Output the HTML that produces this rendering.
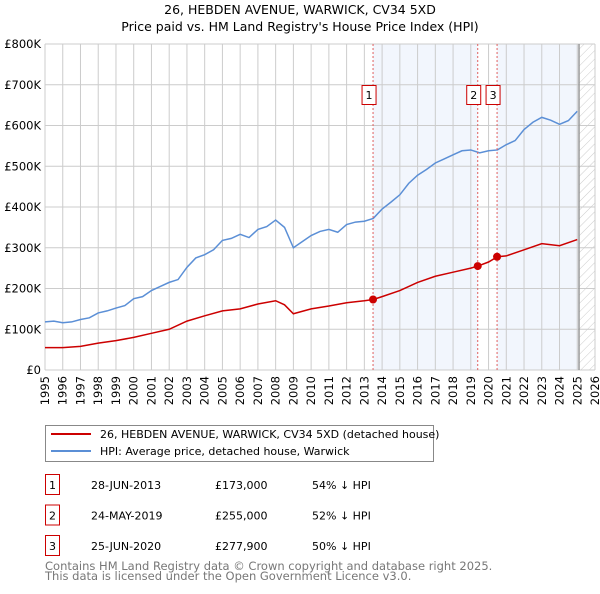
<!DOCTYPE html>
<html><head><meta charset="utf-8"><style>
body{margin:0;background:#fff;font-family:"DejaVu Sans","Liberation Sans",sans-serif;}
svg text{font-family:"DejaVu Sans","Liberation Sans",sans-serif;}
</style></head><body>
<svg id="chart" width="600" height="590" xmlns="http://www.w3.org/2000/svg">
<defs><pattern id="hatch" width="6" height="6" patternUnits="userSpaceOnUse" patternTransform="rotate(45)"><line x1="0" y1="0" x2="0" y2="6" stroke="#ccc" stroke-width="1"/></pattern></defs>
<text x="300" y="14" text-anchor="middle" font-size="12.5">26, HEBDEN AVENUE, WARWICK, CV34 5XD</text>
<text x="300" y="31" text-anchor="middle" font-size="12.5">Price paid vs. HM Land Registry's House Price Index (HPI)</text>
<g id="bg"></g><g id="grid"></g><g id="series"></g><g id="marks"></g><g id="axes"></g>
<g>
<rect x="45.5" y="425.5" width="388" height="36" fill="#fff" stroke="#888"/>
<line x1="51" y1="434" x2="91" y2="434" stroke="#cc0000" stroke-width="2"/>
<text x="100" y="438" font-size="11">26, HEBDEN AVENUE, WARWICK, CV34 5XD (detached house)</text>
<line x1="51" y1="451" x2="91" y2="451" stroke="#5b8fd6" stroke-width="2"/>
<text x="100" y="455" font-size="11">HPI: Average price, detached house, Warwick</text>
</g>
<g id="table" font-size="11"></g>
<text x="45" y="570" font-size="11.5" fill="#777">Contains HM Land Registry data © Crown copyright and database right 2025.</text>
<text x="45" y="580" font-size="11.5" fill="#777">This data is licensed under the Open Government Licence v3.0.</text>
</svg>
<script>
const hpiYears=[1995,1995.5,1996,1996.5,1997,1997.5,1998,1998.5,1999,1999.5,2000,2000.5,2001,2001.5,2002,2002.5,2003,2003.5,2004,2004.5,2005,2005.5,2006,2006.5,2007,2007.5,2008,2008.5,2009,2009.5,2010,2010.5,2011,2011.5,2012,2012.5,2013,2013.5,2014,2014.5,2015,2015.5,2016,2016.5,2017,2017.5,2018,2018.5,2019,2019.5,2020,2020.5,2021,2021.5,2022,2022.5,2023,2023.5,2024,2024.5,2025];
const hpiValues=[118,120,116,118,124,128,140,145,152,158,175,180,195,205,215,222,252,275,283,295,318,323,333,325,345,352,368,350,300,315,330,340,345,338,357,363,365,372,395,412,430,458,478,492,508,518,528,538,540,533,538,540,553,563,590,608,620,613,603,612,635];
const ppYears=[1995,1996,1997,1998,1999,2000,2001,2002,2003,2004,2005,2006,2007,2008,2008.5,2009,2010,2011,2012,2013,2013.5,2014,2015,2016,2017,2018,2019,2019.4,2020,2020.5,2021,2022,2023,2024,2025];
const ppValues=[55,55,58,66,72,80,90,100,120,133,145,150,162,170,160,138,150,157,165,170,173,180,195,215,230,240,250,255,265,278,280,295,310,305,320];
const saleYears=[2013.49,2019.39,2020.48];
const saleValues=[173000,255000,277900];
const saleLabels=["1","2","3"];
const saleDates=["28-JUN-2013","24-MAY-2019","25-JUN-2020"];
const salePrices=["£173,000","£255,000","£277,900"];
const saleDiffs=["54% ↓ HPI","52% ↓ HPI","50% ↓ HPI"];
const yTicks=[0,100000,200000,300000,400000,500000,600000,700000,800000];
const yTickLabels=["£0","£100K","£200K","£300K","£400K","£500K","£600K","£700K","£800K"];
const xTicks=[1995,1996,1997,1998,1999,2000,2001,2002,2003,2004,2005,2006,2007,2008,2009,2010,2011,2012,2013,2014,2015,2016,2017,2018,2019,2020,2021,2022,2023,2024,2025,2026];
const dataEnd=2025.1;
const X0=45,X1=595,Y0=370,Y1=44;
const sx=y=>X0+(y-1995)/31*(X1-X0);
const sy=v=>Y0-v/800000*(Y0-Y1);
const NS="http://www.w3.org/2000/svg";
function mk(p,t,a){const e=document.createElementNS(NS,t);for(const k in a)e.setAttribute(k,a[k]);document.getElementById(p).appendChild(e);return e;}
let r=mk('bg','rect',{x:sx(saleYears[0]),y:Y1,width:sx(saleYears[1])-sx(saleYears[0]),height:Y0-Y1,fill:'#f2f6fd'});


r=mk('bg','rect',{x:sx(saleYears[2]),y:Y1,width:sx(dataEnd)-sx(saleYears[2]),height:Y0-Y1,fill:'#f2f6fd'});


r=mk('bg','rect',{x:sx(dataEnd),y:Y1,width:X1-sx(dataEnd),height:Y0-Y1,fill:'url(#hatch)'});


xTicks.forEach((t,i)=>{const l=mk('grid','line',{x1:sx(t),x2:sx(t),y1:Y1,y2:Y0,stroke:'#ccc'});


const tx=mk('axes','text',{x:0,y:0,'font-size':11.5,'text-anchor':'end',transform:`translate(${sx(t)+4},${Y0+6}) rotate(-90)`});tx.textContent=t;

});
yTicks.forEach((t,i)=>{const l=mk('grid','line',{x1:X0,x2:X1,y1:sy(t),y2:sy(t),stroke:'#ccc'});


const tx=mk('axes','text',{x:X0-4,y:sy(t)+4,'font-size':11.5,'text-anchor':'end'});tx.textContent=yTickLabels[i];

});
let ed=mk('grid','line',{x1:sx(dataEnd),x2:sx(dataEnd),y1:Y1,y2:Y0,stroke:'#999','stroke-width':1.5});


let p=mk('series','polyline',{points:hpiYears.map((y,i)=>sx(y)+','+sy(hpiValues[i]*1000)).join(' '),fill:'none',stroke:'#5b8fd6','stroke-width':1.5});


p=mk('series','polyline',{points:ppYears.map((y,i)=>sx(y)+','+sy(ppValues[i]*1000)).join(' '),fill:'none',stroke:'#cc0000','stroke-width':1.5});


saleYears.forEach((y,i)=>{const x=sx(y);
const l=mk('marks','line',{x1:x,x2:x,y1:Y1,y2:Y0,stroke:'#e06060','stroke-dasharray':'2,2'});


const c=mk('marks','circle',{cx:x,cy:sy(saleValues[i]),r:4,fill:'#cc0000'});


const bx=x-10.5;
const b=mk('marks','rect',{x:bx-0.5,y:85.5,width:14,height:19,fill:'#fff',stroke:'#cc0000'});


const t=mk('marks','text',{x:bx+6.5,y:99,'font-size':11,'text-anchor':'middle'});t.textContent=saleLabels[i];


const ty=485+i*30.5;
const tb=mk('table','rect',{x:45.5,y:ty-10.5,width:14,height:20,fill:'#fff',stroke:'#cc0000'});


const cells=[[saleLabels[i],52.5,'middle'],[saleDates[i],91,'start'],[salePrices[i],215,'start'],[saleDiffs[i],312,'start']];
cells.forEach(c2=>{const tt=mk('table','text',{x:c2[1],y:ty+4,'text-anchor':c2[2]});tt.textContent=c2[0];

});
});
</script>
</body></html>
